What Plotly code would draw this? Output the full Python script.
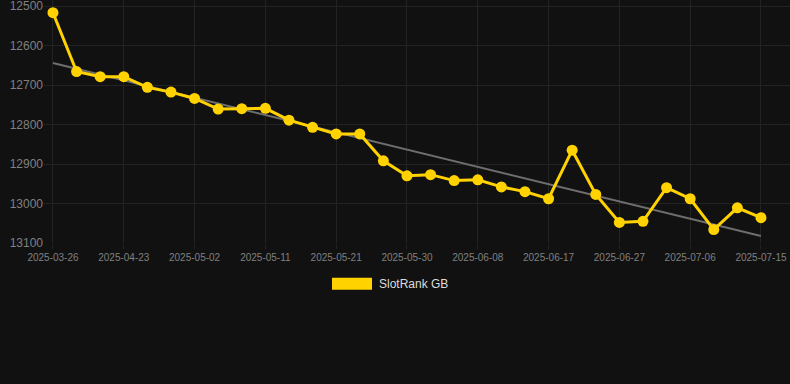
import numpy as np
import plotly.graph_objects as go

dates = ["2025-03-26", "2025-04-17", "2025-04-20", "2025-04-23", "2025-04-26", "2025-04-29",
         "2025-05-02", "2025-05-05", "2025-05-08", "2025-05-11", "2025-05-14", "2025-05-18",
         "2025-05-21", "2025-05-24", "2025-05-27", "2025-05-30", "2025-06-02", "2025-06-05",
         "2025-06-08", "2025-06-11", "2025-06-14", "2025-06-17", "2025-06-21", "2025-06-24",
         "2025-06-27", "2025-06-30", "2025-07-03", "2025-07-06", "2025-07-09", "2025-07-12",
         "2025-07-15"]
ranks = [12517, 12666, 12679, 12679, 12706, 12718, 12734, 12761, 12760, 12759, 12789, 12807,
         12824, 12824, 12892, 12930, 12927, 12942, 12940, 12958, 12970, 12988, 12865, 12977,
         13048, 13045, 12960, 12988, 13066, 13011, 13036]
tick_labels = dates[::3]
y_ticks = [12500, 12600, 12700, 12800, 12900, 13000, 13100]
series_name = "SlotRank GB"

idx = np.arange(len(ranks))
slope, intercept = np.polyfit(idx, ranks, 1)
trend = (slope * idx + intercept).tolist()

PH = 243.3  # plot height in px
PW = 746.0  # plot width in px
L = 44


def px(x):
    return (x - L) / PW


def py(y):
    return (PH - y) / PH


fig = go.Figure()
fig.add_trace(go.Scatter(x=dates, y=trend, mode="lines",
                         line=dict(color="#6e6e6e", width=2), showlegend=False, hoverinfo="skip"))
fig.add_trace(go.Scatter(x=dates, y=ranks, mode="lines+markers", name=series_name,
                         line=dict(color="#FFD200", width=3),
                         marker=dict(color="#FFD200", size=11), showlegend=False))

fig.update_layout(
    width=790, height=384,
    paper_bgcolor="#111111", plot_bgcolor="#111111",
    margin=dict(l=L, r=0, t=0, b=384 - PH),
    font=dict(family="Liberation Sans, Arial, sans-serif", color="#808080"),
    xaxis=dict(type="category", categoryorder="array", categoryarray=dates,
               tickvals=tick_labels, ticktext=tick_labels,
               range=[-0.38, 31.23], showgrid=True, gridcolor="#232323", gridwidth=1,
               zeroline=False, showline=False, ticks="outside", ticklen=5, tickcolor="#232323",
               tickfont=dict(size=10, color="#808080")),
    yaxis=dict(range=[13100, 12484.8], tickvals=y_ticks, tickformat="d", showgrid=True,
               gridcolor="#232323", zeroline=False, showline=False, ticks="",
               ticklabelstandoff=0, ticklabeloverflow="allow",
               tickfont=dict(size=12, color="#808080")),
    shapes=[dict(type="rect", xref="paper", yref="paper", x0=px(332), x1=px(372),
                 y0=py(290), y1=py(278),
                 fillcolor="#FFD200", line=dict(width=0))],
    annotations=[dict(text=series_name, xref="paper", yref="paper", x=px(377),
                      y=py(284), xanchor="left", yanchor="middle", showarrow=False,
                      font=dict(size=12, color="#dddddd"))],
)

fig.write_html("out.html", config={"displayModeBar": False},
               post_script="document.body.style.margin='0';document.body.style.background='#111111';")
